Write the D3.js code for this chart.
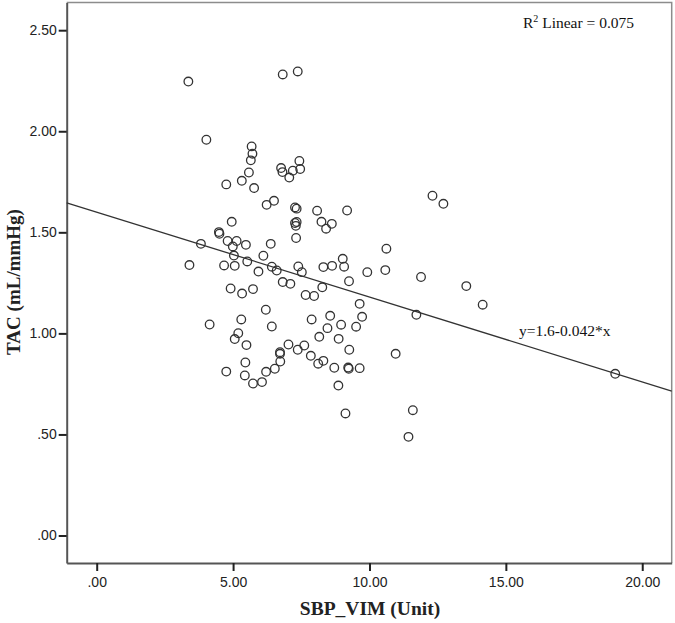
<!DOCTYPE html>
<html lang='en'>
  <head>
    <style type='text/css'>
      body {margin: 0; background-color: #fff;}
      #visualization {width: 675px; height: 623px;}
    </style>
  </head>
  <body>

    <div id='visualization'>
      <svg width='675' height='623'></svg>
    </div>

    <script src='https://d3js.org/d3.v7.min.js'></script>
    <script type='text/javascript'>
        // SBP_VIM values (x) and TAC values (y)
        var sbpVim = [
          3.36, 6.82, 7.37, 4.02, 5.68, 5.71, 5.65, 7.43, 6.76, 6.81,
          7.19, 7.46, 7.06, 5.58, 5.32, 4.75, 5.77, 6.23, 6.50, 7.27,
          7.33, 8.08, 9.18, 8.24, 8.62, 8.41, 7.27, 7.33, 7.30, 7.31,
          4.95, 4.48, 4.50, 3.82, 4.80, 5.13, 4.99, 5.47, 6.38, 5.03,
          6.11, 5.52, 3.40, 4.67, 5.06, 6.42, 6.60, 5.93, 7.39, 7.52,
          8.31, 8.63, 9.02, 9.07, 9.92, 10.58, 10.62, 9.25, 8.27, 6.82,
          7.10, 7.66, 7.97, 4.91, 5.33, 5.73, 6.20, 9.64, 9.73, 8.56,
          7.88, 8.96, 9.51, 8.46, 4.14, 5.30, 6.42, 5.19, 5.06, 5.49,
          8.16, 8.87, 7.03, 7.61, 7.37, 6.72, 6.72, 9.26, 10.96, 7.85,
          6.73, 5.45, 8.31, 8.12, 6.53, 6.21, 4.75, 5.43, 8.71, 9.22,
          9.24, 9.64, 5.73, 6.06, 8.86, 9.12, 12.31, 12.71, 11.89, 13.55,
          14.15, 11.72, 11.59, 11.43, 19.01
        ];
        var tac = [
          2.246, 2.281, 2.296, 1.958, 1.925, 1.889, 1.856, 1.853, 1.818, 1.798,
          1.805, 1.813, 1.771, 1.796, 1.755, 1.737, 1.719, 1.636, 1.656, 1.623,
          1.617, 1.607, 1.608, 1.552, 1.542, 1.518, 1.546, 1.551, 1.532, 1.472,
          1.552, 1.501, 1.493, 1.443, 1.457, 1.457, 1.430, 1.438, 1.443, 1.385,
          1.384, 1.356, 1.338, 1.336, 1.334, 1.330, 1.311, 1.306, 1.331, 1.303,
          1.328, 1.334, 1.369, 1.330, 1.303, 1.313, 1.419, 1.258, 1.228, 1.254,
          1.245, 1.190, 1.185, 1.222, 1.197, 1.219, 1.117, 1.146, 1.082, 1.087,
          1.069, 1.043, 1.033, 1.026, 1.044, 1.069, 1.034, 1.001, 0.972, 0.942,
          0.983, 0.973, 0.945, 0.940, 0.919, 0.907, 0.899, 0.919, 0.899, 0.889,
          0.861, 0.856, 0.864, 0.850, 0.825, 0.810, 0.811, 0.792, 0.830, 0.831,
          0.825, 0.828, 0.752, 0.759, 0.742, 0.604, 1.681, 1.641, 1.279, 1.234,
          1.142, 1.092, 0.620, 0.488, 0.800
        ];

        var xTicks = [0, 5, 10, 15, 20];
        var yTicks = [0, 0.5, 1, 1.5, 2, 2.5];

        // fit line
        var intercept = 1.6, slope = -0.042;
        var fitLabel = "y=1.6-0.042*x";
        var r2Value = "0.075";

        var data = sbpVim.map(function(d, i) { return {x: d, y: tac[i]}; });

        var svg = d3.select("svg");
        var serif = "'Liberation Serif', 'DejaVu Serif', serif";
        var plot = {left: 66.7, right: 671.7, top: 2.5, bottom: 563};

        var x = d3.scaleLinear().domain([-1.1, 21.08]).range([plot.left, plot.right]);
        var y = d3.scaleLinear().domain([-0.136, 2.637]).range([plot.bottom, plot.top]);

        // SPSS style labels: ".50", "2.50"
        var fmt = function(d) { return d3.format(".2f")(d).replace(/^0\./, "."); };

        // top / right frame
        svg.append("path")
          .attr("d", "M" + plot.left + "," + plot.top + "H" + plot.right + "V" + plot.bottom)
          .attr("fill", "none")
          .attr("stroke", "#8c8c8c")
          .attr("stroke-width", 1.5);

        var gx = svg.append("g")
          .attr("transform", "translate(0," + plot.bottom + ")")
          .call(d3.axisBottom(x).tickValues(xTicks).tickFormat(fmt).tickSize(8).tickSizeOuter(0));

        var gy = svg.append("g")
          .attr("transform", "translate(" + plot.left + ",0)")
          .call(d3.axisLeft(y).tickValues(yTicks).tickFormat(fmt).tickSize(8).tickSizeOuter(0));

        [gx, gy].forEach(function(g) {
          g.select(".domain").attr("stroke", "#555").attr("stroke-width", 2);
          g.selectAll(".tick line").attr("stroke", "#222").attr("stroke-width", 2);
          g.selectAll(".tick text")
            .attr("font-family", "'Liberation Sans', Arial, sans-serif")
            .attr("font-size", 14)
            .attr("fill", "#222");
        });
        gx.selectAll(".tick text").attr("dy", "0.71em").attr("y", 14);
        gy.selectAll(".tick text").attr("x", -10);

        // regression line
        var xd = x.domain();
        svg.append("line")
          .attr("x1", x(xd[0])).attr("y1", y(intercept + slope * xd[0]))
          .attr("x2", x(xd[1])).attr("y2", y(intercept + slope * xd[1]))
          .attr("stroke", "#333")
          .attr("stroke-width", 1.3);

        // points
        svg.append("g").selectAll("circle").data(data)
          .enter().append("circle")
            .attr("cx", function(d) { return x(d.x); })
            .attr("cy", function(d) { return y(d.y); })
            .attr("r", 4.3)
            .attr("fill", "none")
            .attr("stroke", "#333")
            .attr("stroke-width", 1.3);

        // axis titles
        svg.append("text")
          .attr("x", 370).attr("y", 615)
          .attr("text-anchor", "middle")
          .style("font-family", serif)
          .attr("font-weight", "bold")
          .attr("font-size", 19.5)
          .attr("fill", "#222")
          .text("SBP_VIM (Unit)");

        svg.append("text")
          .attr("transform", "translate(20,282) rotate(-90)")
          .attr("text-anchor", "middle")
          .style("font-family", serif)
          .attr("font-weight", "bold")
          .attr("font-size", 19)
          .attr("fill", "#222")
          .text("TAC (mL/mmHg)");

        // R squared note
        var r2 = svg.append("text")
          .attr("x", 523).attr("y", 28)
          .style("font-family", serif)
          .attr("font-size", 15.5)
          .attr("fill", "#111");
        r2.append("tspan").text("R");
        r2.append("tspan").attr("dy", -6).attr("font-size", 10).text("2");
        r2.append("tspan").attr("dy", 6).text(" Linear = " + r2Value);

        // fit equation
        svg.append("text")
          .attr("x", 519).attr("y", 336)
          .style("font-family", serif)
          .attr("font-size", 15.5)
          .attr("fill", "#111")
          .text(fitLabel);
    </script>
  </body>
</html>
